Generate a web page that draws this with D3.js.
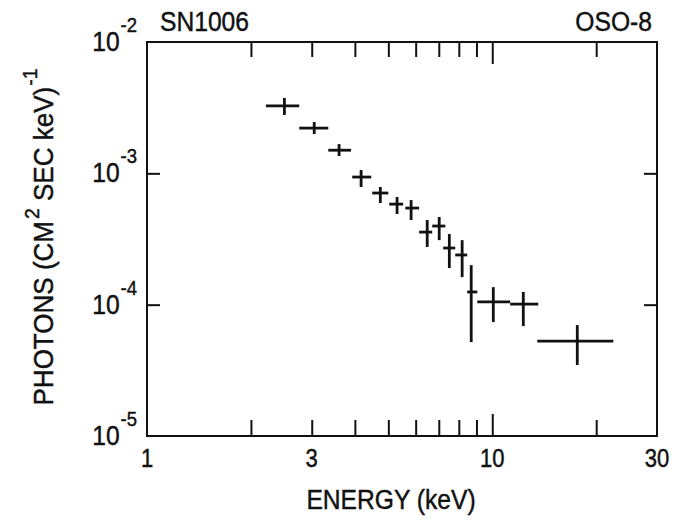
<!DOCTYPE html>
<html>
<head>
<meta charset="utf-8">
<script src="https://cdn.jsdelivr.net/npm/d3@7"></script>
<style>
  html, body { margin: 0; padding: 0; background: #fff; }
  svg { display: block; }
  text { font-family: "Liberation Sans", Arial, sans-serif; fill: #111; stroke: #111; stroke-width: 0.45px; }
</style>
</head>
<body>
<svg id="chart" width="677" height="523"></svg>
<script>
// SN1006 X-ray spectrum measured by OSO-8
const energy   = [2.50, 3.05, 3.60, 4.17, 4.74, 5.30, 5.82, 6.48, 7.02, 7.51, 8.18, 8.69, 10.07, 12.30, 17.63];
const energyLo = [2.21, 2.76, 3.35, 3.93, 4.49, 5.03, 5.60, 6.14, 6.70, 7.21, 7.81, 8.46, 9.05, 11.27, 13.50];
const energyHi = [2.76, 3.35, 3.90, 4.46, 5.00, 5.52, 6.14, 6.70, 7.31, 7.81, 8.46, 9.05, 11.27, 13.59, 22.42];
const flux     = [3.26e-3, 2.21e-3, 1.50e-3, 9.37e-4, 7.08e-4, 5.83e-4, 5.44e-4, 3.57e-4, 3.97e-4, 2.70e-4, 2.39e-4, 1.25e-4, 1.05e-4, 1.01e-4, 5.28e-5];
const fluxHi   = [3.75e-3, 2.46e-3, 1.67e-3, 1.06e-3, 7.87e-4, 6.60e-4, 6.26e-4, 4.41e-4, 4.65e-4, 3.45e-4, 3.10e-4, 2.00e-4, 1.36e-4, 1.25e-4, 6.99e-5];
const fluxLo   = [2.78e-3, 1.99e-3, 1.355e-3, 7.87e-4, 5.94e-4, 4.90e-4, 4.41e-4, 2.75e-4, 3.10e-4, 1.90e-4, 1.62e-4, 5.19e-5, 7.37e-5, 6.87e-5, 3.47e-5];

const xTickLabels = ["1", "3", "10", "30"];
const xTickValues = [1, 3, 10, 30];
const xMinorTicks = [2, 3, 4, 5, 6, 7, 8, 9, 20];
const yTickExponents = ["-2", "-3", "-4", "-5"];
const yTickValues = [1e-2, 1e-3, 1e-4, 1e-5];

const svg = d3.select("#chart");
const ink = "#111";

const x = d3.scaleLog().domain([1, 30]).range([147, 657]);
const y = d3.scaleLog().domain([1e-5, 1e-2]).range([436, 42]);

// frame
svg.append("rect")
  .attr("x", x(1)).attr("y", y(1e-2))
  .attr("width", x(30) - x(1)).attr("height", y(1e-5) - y(1e-2))
  .attr("fill", "none").attr("stroke", ink).attr("stroke-width", 2);

// inward ticks on all four sides
function styleAxis(g) {
  g.select(".domain").remove();
  g.selectAll(".tick line").attr("stroke", ink).attr("stroke-width", 2);
  g.selectAll(".tick text").remove();
}
svg.append("g").attr("transform", `translate(0,${y(1e-5)})`)
  .call(d3.axisBottom(x).tickValues(xMinorTicks).tickSize(-16).tickFormat(""))
  .call(styleAxis);
svg.append("g").attr("transform", `translate(0,${y(1e-5)})`)
  .call(d3.axisBottom(x).tickValues([10]).tickSize(-22).tickFormat(""))
  .call(styleAxis);
svg.append("g").attr("transform", `translate(0,${y(1e-2)})`)
  .call(d3.axisTop(x).tickValues(xMinorTicks).tickSize(-15).tickFormat(""))
  .call(styleAxis);
svg.append("g").attr("transform", `translate(0,${y(1e-2)})`)
  .call(d3.axisTop(x).tickValues([10]).tickSize(-22).tickFormat(""))
  .call(styleAxis);
svg.append("g").attr("transform", `translate(${x(1)},0)`)
  .call(d3.axisLeft(y).tickValues([1e-3, 1e-4]).tickSize(-13).tickFormat(""))
  .call(styleAxis);
svg.append("g").attr("transform", `translate(${x(30)},0)`)
  .call(d3.axisRight(y).tickValues([1e-3, 1e-4]).tickSize(-13).tickFormat(""))
  .call(styleAxis);

// narrow text helper
function label(px, py, str, size, anchor, rot, squeeze) {
  const t = svg.append("text")
    .attr("transform", `translate(${px},${py})` + (rot ? ` rotate(${rot})` : "") + ` scale(${squeeze || 0.88},1)`)
    .attr("font-size", size)
    .attr("text-anchor", anchor || "start");
  if (str !== null) t.text(str);
  return t;
}

// x tick labels
xTickValues.forEach((v, i) => label(x(v), 467, xTickLabels[i], 25, "middle"));

// y tick labels: 10 with exponent
yTickValues.forEach((v, i) => {
  const t = label(137, y(v) + 9, null, 28, "end");
  t.append("tspan").text("10");
  t.append("tspan").attr("font-size", 21).attr("dy", -19).attr("dx", 1).text(yTickExponents[i]);
});

// axis titles
label(391, 509, "ENERGY (keV)", 28, "middle");

const yt = label(53, 237, null, 28, "middle", -90, 0.93);
yt.append("tspan").text("PHOTONS (CM");
yt.append("tspan").attr("font-size", 21).attr("dy", -14).attr("dx", 2).text("2");
yt.append("tspan").attr("dy", 14).text(" SEC keV)");
yt.append("tspan").attr("font-size", 21).attr("dy", -16).attr("dx", 1).text("-1");

// corner captions
label(160, 31, "SN1006", 28, "start");
label(652, 31, "OSO-8", 28, "end");

// error-bar crosses
const pts = energy.map((e, i) => ({ e, eLo: energyLo[i], eHi: energyHi[i], f: flux[i], fLo: fluxLo[i], fHi: fluxHi[i] }));
const g = svg.append("g").attr("stroke", ink).attr("stroke-width", 2.8).attr("stroke-linecap", "butt");
g.selectAll("line.h").data(pts).join("line").attr("class", "h")
  .attr("x1", d => x(d.eLo)).attr("x2", d => x(d.eHi))
  .attr("y1", d => y(d.f)).attr("y2", d => y(d.f));
g.selectAll("line.v").data(pts).join("line").attr("class", "v")
  .attr("x1", d => x(d.e)).attr("x2", d => x(d.e))
  .attr("y1", d => y(d.fLo)).attr("y2", d => y(d.fHi));
</script>
</body>
</html>
